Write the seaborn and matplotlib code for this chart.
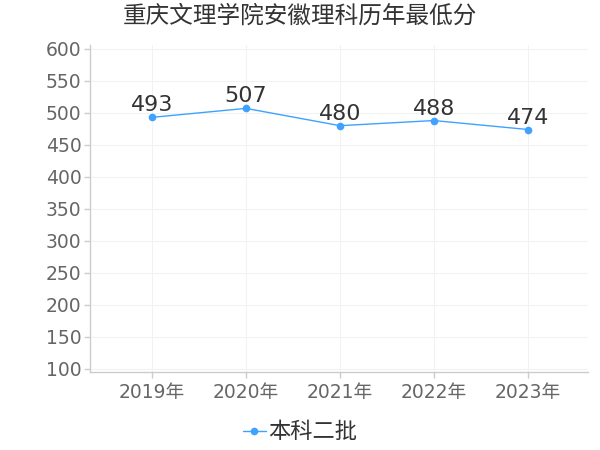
import matplotlib
matplotlib.use("Agg")
import matplotlib.pyplot as plt
import seaborn as sns
import pandas as pd

title = "重庆文理学院安徽理科历年最低分"
years = ["2019年", "2020年", "2021年", "2022年", "2023年"]
scores = [493, 507, 480, 488, 474]
series_name = "本科二批"
yticks = [100, 150, 200, 250, 300, 350, 400, 450, 500, 550, 600]

sns.set_theme(style="white")
plt.rcParams['font.family'] = ['DejaVu Sans', 'Noto Sans CJK SC']

df = pd.DataFrame({"year": years, "score": scores, "batch": series_name})

fig = plt.figure(figsize=(6, 4.5), dpi=100)
ax = fig.add_axes([0.15, 0.173, 0.83, 0.727])
color = "#3fa2ff"
sns.lineplot(data=df, x="year", y="score", hue="batch", palette=[color],
             marker="o", markersize=5.5, markeredgewidth=0, linewidth=1.0,
             ax=ax, sort=False)

for i, v in enumerate(scores):
    ax.text(i, v + 3, str(v), ha="center", va="bottom", fontsize=16, color="#333333")

ax.set_xlim(-0.66, 4.64)
ax.set_ylim(95, 606)
ax.set_yticks(yticks)
ax.set_xlabel("")
ax.set_ylabel("")
ax.grid(True, color="#f2f2f2", linewidth=0.8)
for s in ["top", "right"]:
    ax.spines[s].set_visible(False)
for s in ["left", "bottom"]:
    ax.spines[s].set_color("#cccccc")
    ax.spines[s].set_linewidth(1)
ax.tick_params(axis="both", colors="#cccccc", labelcolor="#666666", labelsize=13.5,
               length=4, width=1, left=True, bottom=True)
ax.tick_params(axis="y", pad=2)

leg = fig.legend(*ax.get_legend_handles_labels(), loc="center",
                 bbox_to_anchor=(0.5, 0.04), frameon=False,
                 handlelength=1.0, handletextpad=0.1,
                 prop={"family": ["Noto Sans CJK SC", "DejaVu Sans"], "size": 16})
ax.get_legend().remove()
for t in leg.get_texts():
    t.set_color("#333333")

fig.suptitle(title, x=0.5, y=0.99, fontsize=17, color="#333333",
             fontfamily=["Noto Sans CJK SC", "DejaVu Sans"])
fig.savefig("out.png", dpi=100)
